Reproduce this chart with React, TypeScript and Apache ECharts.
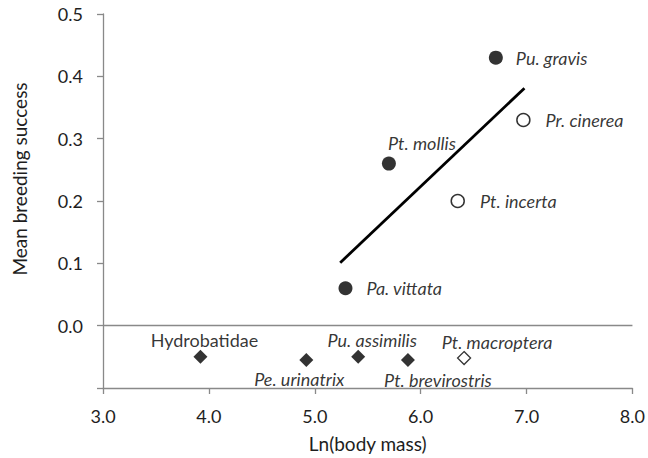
import React, { useEffect, useRef } from "react";
import * as echarts from "echarts";

const filledCircles = [
  { name: "Pu. gravis", value: [6.71, 0.43] },
  { name: "Pt. mollis", value: [5.7, 0.26] },
  { name: "Pa. vittata", value: [5.29, 0.06] },
];
const openCircles = [
  { name: "Pr. cinerea", value: [6.97, 0.33] },
  { name: "Pt. incerta", value: [6.35, 0.2] },
];
const filledDiamonds = [
  { name: "Hydrobatidae", value: [3.92, -0.05] },
  { name: "Pe. urinatrix", value: [4.92, -0.055] },
  { name: "Pu. assimilis", value: [5.41, -0.05] },
  { name: "Pt. brevirostris", value: [5.88, -0.055] },
];
const openDiamonds = [{ name: "Pt. macroptera", value: [6.41, -0.052] }];
const regressionLine = [
  [5.24, 0.101],
  [6.98, 0.381],
];
const xTicks = [3, 4, 5, 6, 7, 8];
const yTicks = [-0.1, 0, 0.1, 0.2, 0.3, 0.4, 0.5];

const FONT = "Lato";
const AXIS_COLOR = "#898989";
const TEXT_COLOR = "#1e1e1e";

// label placement (styling only)
const labelStyle: Record<string, any> = {
  "Pu. gravis": { position: "right", distance: 13 },
  "Pt. mollis": { position: "inside", offset: [33, -21] },
  "Pa. vittata": { position: "right", distance: 14 },
  "Pr. cinerea": { position: "right", distance: 15 },
  "Pt. incerta": { position: "right", distance: 15 },
  Hydrobatidae: { position: "inside", offset: [4, -17], fontStyle: "normal" },
  "Pe. urinatrix": { position: "inside", offset: [-7, 19] },
  "Pu. assimilis": { position: "inside", offset: [14, -17] },
  "Pt. brevirostris": { position: "inside", offset: [30, 20] },
  "Pt. macroptera": { position: "inside", offset: [33, -16] },
};

const withLabels = (arr: { name: string; value: number[] }[]) =>
  arr.map((d) => ({
    name: d.name,
    value: d.value,
    label: {
      show: true,
      formatter: d.name,
      color: "#000",
      fontFamily: FONT,
      fontSize: 18,
      fontStyle: "italic",
      ...labelStyle[d.name],
    },
  }));

export default function App() {
  const ref = useRef<HTMLDivElement>(null);
  useEffect(() => {
    if (!ref.current) return;
    const chart = echarts.init(ref.current, undefined, { renderer: "svg" });
    const fmt = (v: number) => {
      if (v < -0.05) return "";
      return (Math.abs(v) < 1e-9 ? 0 : v).toFixed(1);
    };
    chart.setOption({
      animation: false,
      backgroundColor: "#fff",
      grid: { left: 103, right: 15, top: 14, bottom: 69, containLabel: false },
      xAxis: {
        type: "value",
        min: xTicks[0],
        max: xTicks[xTicks.length - 1],
        interval: 1,
        name: "Ln(body mass)",
        nameLocation: "middle",
        nameGap: 46,
        nameTextStyle: { fontFamily: FONT, fontSize: 19, color: TEXT_COLOR },
        axisLine: { show: true, onZero: false, lineStyle: { color: AXIS_COLOR, width: 1.3 } },
        axisTick: { show: true, inside: false, length: 6, lineStyle: { color: AXIS_COLOR, width: 1.3 } },
        axisLabel: { margin: 19, fontFamily: FONT, fontSize: 18, color: TEXT_COLOR, formatter: (v: number) => v.toFixed(1) },
        splitLine: { show: false },
      },
      yAxis: {
        type: "value",
        min: yTicks[0],
        max: yTicks[yTicks.length - 1],
        interval: 0.1,
        name: "Mean breeding success",
        nameLocation: "middle",
        nameGap: 74,
        nameTextStyle: { fontFamily: FONT, fontSize: 19, color: TEXT_COLOR, padding: [0, 0, 0, 44] },
        axisLine: { show: true, onZero: false, lineStyle: { color: AXIS_COLOR, width: 1.3 } },
        axisTick: { show: true, inside: false, length: 6, lineStyle: { color: AXIS_COLOR, width: 1.3 } },
        axisLabel: { margin: 20, fontFamily: FONT, fontSize: 18, color: TEXT_COLOR, formatter: fmt },
        splitLine: { show: false },
      },
      series: [
        {
          type: "line",
          data: regressionLine,
          symbol: "none",
          lineStyle: { color: "#000", width: 2.8 },
          silent: true,
          markLine: {
            silent: true,
            symbol: ["none", "none"],
            label: { show: false },
            lineStyle: { color: AXIS_COLOR, width: 1.3, type: "solid" },
            data: [{ yAxis: 0 }],
          },
        },
        {
          type: "scatter",
          data: withLabels(filledCircles),
          symbol: "circle",
          symbolSize: 14,
          itemStyle: { color: "#000" },
        },
        {
          type: "scatter",
          data: withLabels(openCircles),
          symbol: "circle",
          symbolSize: 13,
          itemStyle: { color: "#fff", borderColor: "#000", borderWidth: 1.5 },
        },
        {
          type: "scatter",
          data: withLabels(filledDiamonds),
          symbol: "diamond",
          symbolSize: 14,
          itemStyle: { color: "#000" },
        },
        {
          type: "scatter",
          data: withLabels(openDiamonds),
          symbol: "diamond",
          symbolSize: 13,
          itemStyle: { color: "#fff", borderColor: "#000", borderWidth: 1.3 },
        },
      ],
    });
    return () => chart.dispose();
  }, []);
  return (
    <div
      ref={ref}
      style={{ position: "fixed", left: 0, top: 0, width: 648, height: 458 }}
    />
  );
}
